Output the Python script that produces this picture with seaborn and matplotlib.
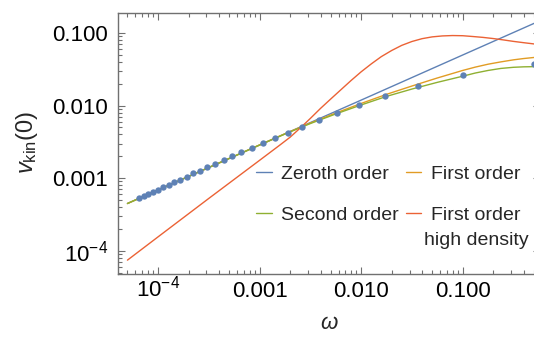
import pandas as pd
import matplotlib
matplotlib.use("Agg")
import matplotlib.pyplot as plt
from matplotlib.ticker import NullFormatter
import seaborn as sns

# values
zeroth_w = [5e-5, 1e-4, 1e-3, 1e-2, 1e-1, 0.63]
zeroth_v = [4.47e-4, 6.87e-4, 2.86e-3, 1.19e-2, 4.98e-2, 0.156]

order_w = [5e-5, 1e-4, 3.16e-4, 1e-3, 1.78e-3, 3.16e-3, 5.62e-3, 0.01, 0.0178,
           0.0316, 0.0562, 0.1, 0.133, 0.178, 0.237, 0.316, 0.398, 0.501, 0.631]
first_v = [4.47e-4, 6.87e-4, 1.40e-3, 2.87e-3, 4.09e-3, 5.75e-3, 7.89e-3,
           1.07e-2, 1.43e-2, 1.86e-2, 2.40e-2, 3.05e-2, 3.39e-2, 3.72e-2,
           4.00e-2, 4.27e-2, 4.45e-2, 4.60e-2, 4.73e-2]
second_v = [4.47e-4, 6.87e-4, 1.40e-3, 2.86e-3, 4.06e-3, 5.65e-3, 7.66e-3,
            1.02e-2, 1.34e-2, 1.69e-2, 2.09e-2, 2.54e-2, 2.81e-2, 3.05e-2,
            3.25e-2, 3.37e-2, 3.42e-2, 3.44e-2, 3.43e-2]

dense_w = [5e-5, 1e-4, 3.16e-4, 1e-3, 1.58e-3, 2.0e-3, 2.51e-3, 3.16e-3,
           3.98e-3, 5.01e-3, 6.31e-3, 7.94e-3, 0.01, 0.0126, 0.0158, 0.02,
           0.0251, 0.0316, 0.0398, 0.0501, 0.0631, 0.0794, 0.1, 0.126, 0.158,
           0.2, 0.251, 0.316, 0.398, 0.501, 0.631]
dense_v = [7.41e-5, 1.55e-4, 5.25e-4, 1.76e-3, 2.85e-3, 3.67e-3, 4.90e-3,
           6.65e-3, 9.14e-3, 1.23e-2, 1.65e-2, 2.21e-2, 2.92e-2, 3.76e-2,
           4.73e-2, 5.75e-2, 6.76e-2, 7.64e-2, 8.36e-2, 8.85e-2, 9.12e-2,
           9.23e-2, 9.18e-2, 8.95e-2, 8.71e-2, 8.39e-2, 8.04e-2, 7.67e-2,
           7.36e-2, 7.08e-2, 6.84e-2]

# numerical points
dots_w = [6.46e-5, 7.23e-5, 7.96e-5, 8.87e-5, 9.93e-5, 1.12e-4, 1.27e-4,
          1.44e-4, 1.65e-4, 1.92e-4, 2.23e-4, 2.61e-4, 3.06e-4, 3.67e-4,
          4.44e-4, 5.40e-4, 6.62e-4, 8.38e-4, 1.08e-3, 1.42e-3, 1.91e-3,
          2.64e-3, 3.83e-3, 5.85e-3, 9.62e-3, 1.73e-2, 3.67e-2, 0.100, 0.499]
dots_v = [5.30e-4, 5.70e-4, 6.07e-4, 6.47e-4, 6.97e-4, 7.52e-4, 8.17e-4,
          8.81e-4, 9.48e-4, 1.05e-3, 1.16e-3, 1.27e-3, 1.42e-3, 1.57e-3,
          1.77e-3, 2.01e-3, 2.29e-3, 2.64e-3, 3.03e-3, 3.58e-3, 4.25e-3,
          5.12e-3, 6.30e-3, 7.85e-3, 1.01e-2, 1.36e-2, 1.88e-2, 2.67e-2,
          3.79e-2]

models = ["Zeroth order", "First order", "Second order", "First order high density"]
colors = ["#5E81B5", "#E19C24", "#8FB032", "#EB6235"]

tick_vals = [1e-4, 1e-3, 1e-2, 1e-1]
tick_labels = [r"$10^{-4}$", "0.001", "0.010", "0.100"]

curves = pd.concat([
    pd.DataFrame({"omega": zeroth_w, "v": zeroth_v, "model": models[0]}),
    pd.DataFrame({"omega": order_w, "v": first_v, "model": models[1]}),
    pd.DataFrame({"omega": order_w, "v": second_v, "model": models[2]}),
    pd.DataFrame({"omega": dense_w, "v": dense_v, "model": models[3]}),
], ignore_index=True)

sns.set_style("ticks")
plt.rcParams["font.family"] = ["Liberation Sans", "DejaVu Sans"]
plt.rcParams["mathtext.fontset"] = "custom"
plt.rcParams["mathtext.rm"] = "Liberation Sans"
plt.rcParams["mathtext.it"] = "Liberation Sans:italic"

fig = plt.figure(figsize=(5.34, 3.37), dpi=100)
ax = fig.add_axes([118 / 534, 63.3 / 337, 422 / 534, 260.7 / 337])
ax.set(xscale="log", yscale="log")

sns.lineplot(data=curves, x="omega", y="v", hue="model", hue_order=models,
             palette=colors, estimator=None, sort=False, lw=1.0,
             legend=False, ax=ax)
sns.scatterplot(x=dots_w, y=dots_v, color=colors[0], s=21, linewidth=0,
                zorder=3, ax=ax)

ax.set_xlim(10 ** -4.394, 10 ** -0.239)
ax.set_ylim(10 ** -4.317, 10 ** -0.724)
ax.set_xticks(tick_vals, labels=tick_labels)
ax.set_yticks(tick_vals, labels=tick_labels)
ax.xaxis.set_minor_formatter(NullFormatter())
ax.yaxis.set_minor_formatter(NullFormatter())

frame = "#707070"
for s in ax.spines.values():
    s.set_color(frame)
    s.set_linewidth(1.0)
ax.tick_params(which="both", direction="in", color=frame, width=0.8,
               top=True, right=True, labelsize=16, labelcolor="black")
ax.tick_params(which="major", length=5)
ax.tick_params(which="minor", length=2.8)
ax.tick_params(axis="y", pad=7)
ax.tick_params(axis="x", pad=16.5)
for lab in ax.get_xticklabels():
    lab.set_verticalalignment("baseline")

ax.set_xlabel(r"$\omega$", fontsize=16)
ax.set_ylabel(r"$v_{\mathrm{kin}}(0)$", fontsize=17, rotation_mode="default",
              va="center", ha="center")
ax.xaxis.set_label_coords(0.501, -0.15)
ax.yaxis.set_label_coords(-0.216, 0.503)

lines = ax.get_lines()
leg = ax.legend([lines[0], lines[2], lines[1], lines[3]],
                ["Zeroth order", "Second order", "First order", "First order"],
                loc="upper left", bbox_to_anchor=(0.327, 0.417), ncol=2,
                frameon=False, borderpad=0, borderaxespad=0, handlelength=0.8,
                handletextpad=0.5, columnspacing=0.35, labelspacing=1.21,
                fontsize=14)
ax.annotate("high density", xy=(0.5, 0), xycoords=leg.get_texts()[3],
            xytext=(0, -6.3), textcoords="offset points", ha="center",
            va="top", fontsize=14, zorder=6)

fig.canvas.draw()
fig.savefig("out.png", dpi=100)
